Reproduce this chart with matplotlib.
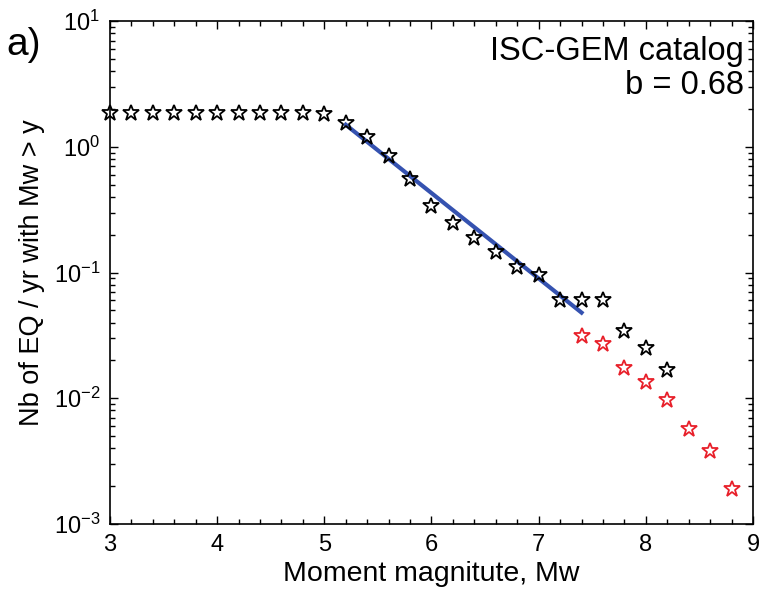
import matplotlib
matplotlib.use('Agg')
import matplotlib.pyplot as plt
from matplotlib.ticker import MultipleLocator, LogLocator

plt.rcParams['font.family'] = ['Liberation Sans', 'DejaVu Sans']
plt.rcParams['mathtext.fontset'] = 'custom'
plt.rcParams['mathtext.rm'] = 'Liberation Sans'
plt.rcParams['mathtext.it'] = 'Liberation Sans:italic'

# catalogue (black stars)
mw_black = [3.0, 3.2, 3.4, 3.6, 3.8, 4.0, 4.2, 4.4, 4.6, 4.8, 5.0,
            5.2, 5.4, 5.6, 5.8, 6.0, 6.2, 6.4, 6.6, 6.8, 7.0,
            7.2, 7.4, 7.6, 7.8, 8.0, 8.2]
rate_black = [1.85, 1.85, 1.85, 1.85, 1.85, 1.85, 1.85, 1.85, 1.85, 1.85, 1.83,
              1.54, 1.19, 0.85, 0.55, 0.34, 0.25, 0.19, 0.145, 0.11, 0.095,
              0.06, 0.06, 0.06, 0.034, 0.025, 0.0167]

# red stars
mw_red = [7.4, 7.6, 7.8, 8.0, 8.2, 8.4, 8.6, 8.8]
rate_red = [0.031, 0.027, 0.0173, 0.0135, 0.0097, 0.0057, 0.0038, 0.0019]

# fitted Gutenberg-Richter line (end points)
fit_mw = [5.2, 7.4]
fit_rate = [1.5, 0.048]

fig = plt.figure(figsize=(7.61, 6.05), dpi=100)
ax = fig.add_axes([0.1445, 0.134, 0.845, 0.831])

ax.plot(fit_mw, fit_rate, color='#3552b0', lw=3, zorder=2)
ax.plot(mw_black, rate_black, ls='none', marker='*', ms=12, mfc='none',
        mec='black', mew=1.3, zorder=3, clip_on=False)
ax.plot(mw_red, rate_red, ls='none', marker='*', ms=12, mfc='none',
        mec='#e8202a', mew=1.3, zorder=3)

ax.set_yscale('log')
ax.set_xlim(3, 9)
ax.set_ylim(1e-3, 1e1)
ax.xaxis.set_major_locator(MultipleLocator(1))
ax.xaxis.set_minor_locator(MultipleLocator(0.2))
ax.yaxis.set_major_locator(LogLocator(base=10))
ax.yaxis.set_minor_locator(LogLocator(base=10, subs=range(2, 10)))
ax.tick_params(which='both', direction='in', top=True, right=True, width=1)
ax.tick_params(which='major', length=6, labelsize=17, pad=7)
ax.tick_params(which='minor', length=3.5)
for s in ax.spines.values():
    s.set_linewidth(1.2)

ax.set_xlabel('Moment magnitute, Mw', fontsize=20.5, labelpad=4)
ax.set_ylabel('Nb of EQ / yr with Mw > y', fontsize=19.5, labelpad=6)

ax.text(0.986, 0.97, 'ISC-GEM catalog\nb = 0.68', transform=ax.transAxes,
        ha='right', va='top', fontsize=23.5, linespacing=1.1)
fig.text(0.008, 0.926, 'a)', fontsize=28, ha='left', va='center')

fig.savefig('out.png', dpi=100)
